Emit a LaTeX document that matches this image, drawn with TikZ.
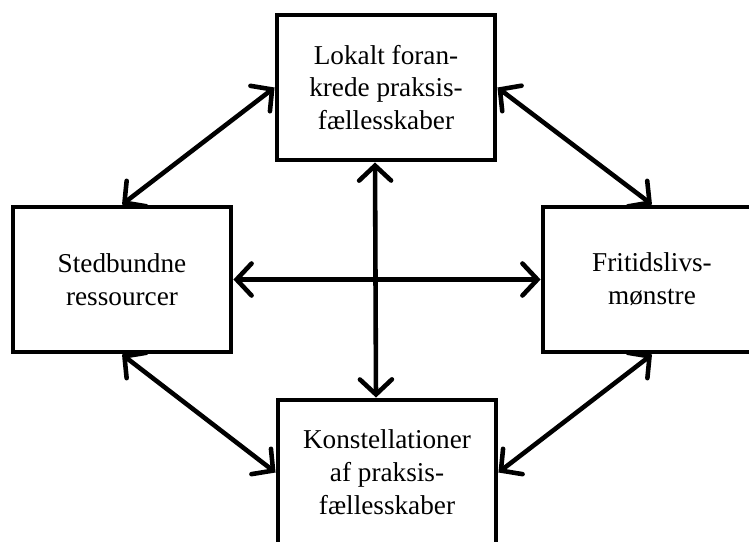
\documentclass[tikz,border=0pt]{standalone}
\usepackage{fontspec}
\setmainfont{Liberation Serif}
\usetikzlibrary{arrows.meta}

\tikzset{
    boks/.style={draw, line width=2.8pt, minimum width=4.36cm, minimum height=2.9cm,
        align=center, font=\fontsize{15.5}{18.7}\selectfont},
    pil/.style={{Straight Barb[length=3mm,width=6.4mm,line cap=round]}-{Straight Barb[length=3mm,width=6.4mm,line cap=round]},
        line width=2.6pt, line cap=round}
}

\begin{document}
\begin{tikzpicture}[x=0.02cm, y=-0.02cm]
        % Rammen om hele figuren.
        \useasboundingbox (0,0) rectangle (749,541);
        \clip (0,0) rectangle (749,541);

        % De fire kasser.
        \node[boks] (lokal) at (386,87.5) {Lokalt foran-\\krede praksis-\\fællesskaber};
        \node[boks] (sted) at (122,279.5) {Stedbundne\\ressourcer};
        \node[boks] (fritid) at (652,279.5) {Fritidslivs-\\mønstre};
        \node[boks] (konst) at (387,472.5) {Konstellationer\\af praksis-\\fællesskaber};

        % Pile mellem kasserne.
        \draw[pil] (sted.north) -- (lokal.west);
        \draw[pil] (lokal.east) -- (fritid.north);
        \draw[pil] (sted.east) -- (fritid.west);
        \draw[pil] ([xshift=-0.22cm]lokal.south) -- ([xshift=-0.22cm]konst.north);
        \draw[pil] (sted.south) -- (konst.west);
        \draw[pil] (konst.east) -- (fritid.south);
    \end{tikzpicture}
\end{document}
